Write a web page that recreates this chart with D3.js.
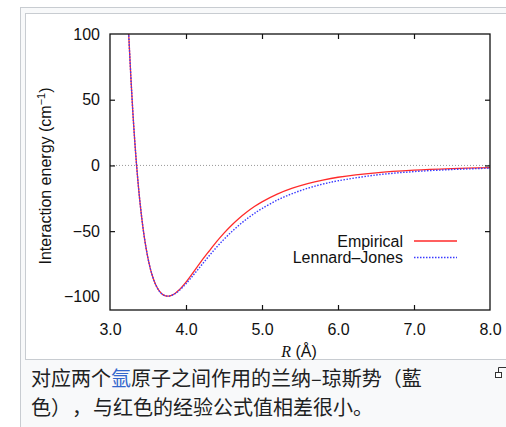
<!DOCTYPE html>
<html>
<head>
<meta charset="utf-8">
<script src="https://cdn.jsdelivr.net/npm/d3@7"></script>
<style>
html,body{margin:0;padding:0;background:#fff;}
svg{display:block;}
.cap{text-spacing-trim:space-all;}
</style>
</head>
<body>
<svg id="chart" width="506" height="427"></svg>
<script>
// ---- Data ----
const rValues = [3.24,3.25,3.30,3.35,3.40,3.45,3.50,3.55,3.60,3.65,3.70,3.76,3.80,3.85,3.90,3.95,4.0,4.1,4.2,4.3,4.4,4.5,4.6,4.7,4.8,4.9,5.0,5.2,5.4,5.6,5.8,6.0,6.5,7.0,7.5,8.0];
const empirical = [108,95,41,0,-31,-54,-70.7,-82.6,-90.6,-95.7,-98.5,-99.5,-99,-97.6,-95.2,-92.2,-88.8,-81,-73,-65.5,-58.2,-51.5,-45.5,-40.2,-35.5,-31.3,-27.7,-21.8,-17.3,-13.8,-11.1,-9.0,-5.6,-3.6,-2.4,-1.6];
const lennardJones = [108,95.2,41.2,0,-31,-54,-70.7,-82.6,-90.6,-95.7,-98.5,-99.5,-99.1,-97.8,-95.7,-93,-90,-83.2,-76.1,-69.1,-62.4,-56.2,-50.5,-45.3,-40.7,-36.5,-32.8,-26.4,-21.4,-17.4,-14.2,-11.7,-7.3,-4.7,-3.1,-2.1];
const xTicks = [3,4,5,6,7,8];
const yTicks = [-100,-50,0,50,100];
const seriesNames = ["Empirical","Lennard\u2013Jones"];
const xLabelItalic = "R";
const xLabelRest = " (\u00C5)";
const yLabel = "Interaction energy (cm";
const captionLine1a = "对应两个";
const captionLink = "氩";
const captionLine1b = "原子之间作用的兰纳–琼斯势（藍";
const captionLine2 = ["色）", "，", "与红色的经验公式值相差很小。"];

const svg = d3.select("#chart");
const font = "'Liberation Sans', Arial, Helvetica, sans-serif";
const fs = 16;

// ---- Frame (wiki thumbnail) ----
svg.append("rect").attr("x",20.5).attr("y",7.5).attr("width",500).attr("height",430)
  .attr("fill","#f8f9fa").attr("stroke","#c8ccd1").attr("stroke-width",1);
svg.append("rect").attr("x",25.5).attr("y",13.5).attr("width",500).attr("height",346)
  .attr("fill","#fff").attr("stroke","#c8ccd1").attr("stroke-width",1);

// ---- Scales ----
const x = d3.scaleLinear().domain([3,8]).range([110,490]);
const y = d3.scaleLinear().domain([-110,100]).range([310,34]);

// zero line
svg.append("line").attr("x1",x(3)).attr("x2",x(8)).attr("y1",y(0)).attr("y2",y(0))
  .attr("stroke","#999").attr("stroke-width",1).attr("stroke-dasharray","1,2");

// clip
svg.append("clipPath").attr("id","clip").append("rect")
  .attr("x",x(3)).attr("y",y(100)).attr("width",x(8)-x(3)).attr("height",y(-110)-y(100));

const data = rValues.map((r,i)=>({r, e:empirical[i], lj:lennardJones[i]}));
const lineE = d3.line().x(d=>x(d.r)).y(d=>y(d.e)).curve(d3.curveCatmullRom);
const lineL = d3.line().x(d=>x(d.r)).y(d=>y(d.lj)).curve(d3.curveCatmullRom);

const g = svg.append("g").attr("clip-path","url(#clip)");
g.append("path").datum(data).attr("d",lineE).attr("fill","none")
  .attr("stroke","#ff2a2a").attr("stroke-width",1.3);
g.append("path").datum(data).attr("d",lineL).attr("fill","none")
  .attr("stroke","#3a3aff").attr("stroke-width",1.4).attr("stroke-dasharray","1.5,1.5");

// ---- Axes ----
const fmtX = d3.format(".1f");
const axB = svg.append("g").attr("transform",`translate(0,${y(-110)})`)
  .call(d3.axisBottom(x).tickValues(xTicks).tickSize(-5).tickSizeOuter(0).tickPadding(14).tickFormat(fmtX));
const axT = svg.append("g").attr("transform",`translate(0,${y(100)})`)
  .call(d3.axisTop(x).tickValues(xTicks).tickSize(-5).tickSizeOuter(0).tickFormat(""));
const axL = svg.append("g").attr("transform",`translate(${x(3)},0)`)
  .call(d3.axisLeft(y).tickValues(yTicks).tickSize(-5).tickSizeOuter(0).tickPadding(10).tickFormat(d3.format("d")));
const axR = svg.append("g").attr("transform",`translate(${x(8)},0)`)
  .call(d3.axisRight(y).tickValues(yTicks).tickSize(-5).tickSizeOuter(0).tickFormat(""));
[axB,axT,axL,axR].forEach(a=>{
  a.select(".domain").remove();
  a.selectAll(".tick line").attr("stroke","#111").attr("stroke-width",1.2);
  a.selectAll("text").attr("font-family",font).attr("font-size",fs).attr("fill","#111");
});
axL.selectAll(".tick").filter(d=>d===100||d===-100).select("line").remove();
axR.selectAll(".tick").filter(d=>d===100||d===-100).select("line").remove();
axB.selectAll(".tick").filter(d=>d===3||d===8).select("line").remove();
axT.selectAll(".tick").filter(d=>d===3||d===8).select("line").remove();

// plot frame
svg.append("rect").attr("x",x(3)).attr("y",y(100)).attr("width",x(8)-x(3)).attr("height",y(-110)-y(100))
  .attr("fill","none").attr("stroke","#111").attr("stroke-width",1.3);

// ---- Axis labels ----
const xl = svg.append("text").attr("x",299).attr("y",357).attr("text-anchor","middle")
  .attr("font-family",font).attr("font-size",fs).attr("fill","#111");
xl.append("tspan").attr("font-family","'Liberation Serif', 'Times New Roman', serif").attr("font-style","italic").text(xLabelItalic);
xl.append("tspan").text(xLabelRest);

const yl = svg.append("text").attr("transform","translate(51,176) rotate(-90)").attr("text-anchor","middle")
  .attr("font-family",font).attr("font-size",fs).attr("fill","#111");
yl.append("tspan").text(yLabel);
yl.append("tspan").attr("font-size",11).attr("dy",-6).text("\u22121");
yl.append("tspan").attr("dy",6).text(")");

// ---- Legend ----
const legend = [
  {name:seriesNames[0], color:"#ff2a2a", dash:null, yy:241},
  {name:seriesNames[1], color:"#3a3aff", dash:"1.5,1.5", yy:257.5}
];
legend.forEach(l=>{
  svg.append("text").attr("x",403).attr("y",l.yy).attr("dy","0.35em").attr("text-anchor","end")
    .attr("font-family",font).attr("font-size",fs).attr("fill","#111").text(l.name);
  svg.append("line").attr("x1",414).attr("x2",457).attr("y1",l.yy).attr("y2",l.yy)
    .attr("stroke",l.color).attr("stroke-width",1.3).attr("stroke-dasharray",l.dash);
});

// ---- Caption ----
const cfont = "'Noto Sans CJK SC', sans-serif";
const c1 = svg.append("text").attr("class","cap").attr("x",31).attr("y",386).attr("font-family",cfont).attr("font-size",20).attr("fill","#202122");
c1.append("tspan").text(captionLine1a);
c1.append("tspan").attr("fill","#3366cc").text(captionLink);
c1.append("tspan").text(captionLine1b);
// second line: place each full-width piece on a 20.6px grid
const c2 = svg.append("text").attr("class","cap").attr("y",415).attr("font-family",cfont).attr("font-size",20).attr("fill","#202122");
c2.append("tspan").attr("x",31).text(captionLine2[0]);
c2.append("tspan").attr("x",72).text(captionLine2[1]);
c2.append("tspan").attr("x",93).text(captionLine2[2]);

// magnify icon
svg.append("rect").attr("x",495.5).attr("y",372.5).attr("width",6).attr("height",5).attr("fill","#fff").attr("stroke","#333").attr("stroke-width",1);
svg.append("path").attr("d","M498.5,372.5 V367.5 H507").attr("fill","none").attr("stroke","#333").attr("stroke-width",1);
</script>
</body>
</html>
